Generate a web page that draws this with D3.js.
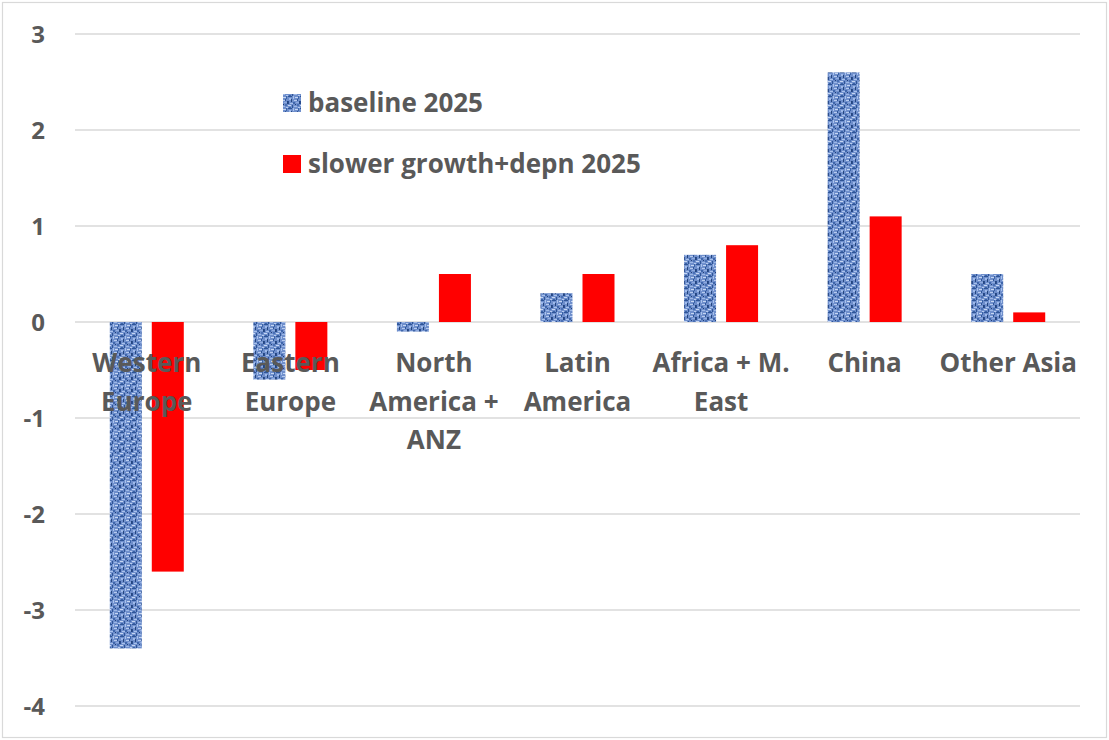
<!DOCTYPE html>
<html lang="en">
<head>
<meta charset="UTF-8">
<title>Regional change 2025</title>
<style>
  body, html { margin: 0; padding: 0; background: #ffffff; }
  svg text { font-family: "Open Sans", "DejaVu Sans", sans-serif; font-weight: bold; fill: #595959; }
</style>
</head>
<body>
<div id="chart"></div>
<script src="https://d3js.org/d3.v7.min.js"></script>
<script>
// Data
const regions = ["Western Europe", "Eastern Europe", "North America + ANZ", "Latin America", "Africa + M. East", "China", "Other Asia"];
const regionLines = [["Western", "Europe"], ["Eastern", "Europe"], ["North", "America +", "ANZ"], ["Latin", "America"], ["Africa + M.", "East"], ["China"], ["Other Asia"]];
const baseline2025 = [-3.4, -0.6, -0.1, 0.3, 0.7, 2.6, 0.5];
const slowerGrowth2025 = [-2.6, -0.5, 0.5, 0.5, 0.8, 1.1, 0.1];
const seriesNames = ["baseline 2025", "slower growth+depn 2025"];
const yTicks = [3, 2, 1, 0, -1, -2, -3, -4];

const W = 1109, H = 740;
const svg = d3.select("#chart").append("svg").attr("width", W).attr("height", H);

// woven blue texture for the baseline series
const defs = svg.append("defs");
const pat = defs.append("pattern").attr("id", "weave")
  .attr("patternUnits", "userSpaceOnUse").attr("width", 12).attr("height", 12);
pat.append("rect").attr("width", 12).attr("height", 12).attr("fill", "#6f8fcc");
const specks = [
  [0,0,4,1,"#2f5597"],[5,0,1,3,"#a9c2ec"],[7,1,3,1,"#c5d6f2"],[10,0,1,3,"#3b64a8"],
  [1,2,2,2,"#9fbaea"],[3,3,1,3,"#24467f"],[6,4,3,1,"#b7cbef"],[9,3,1,2,"#2f5597"],
  [0,5,1,3,"#2a4d8f"],[2,7,3,1,"#a9c2ec"],[5,6,2,2,"#3f66ab"],[8,6,3,1,"#8fabe0"],
  [11,5,1,3,"#24467f"],[0,9,3,1,"#c5d6f2"],[4,9,1,3,"#2f5597"],[6,10,3,1,"#9db8e6"],
  [9,8,2,2,"#4a70b4"],[1,11,2,1,"#3b64a8"],[10,11,2,1,"#b7cbef"],[7,8,1,1,"#1f3f78"]
];
specks.forEach(s => pat.append("rect").attr("x", s[0]).attr("y", s[1]).attr("width", s[2]).attr("height", s[3]).attr("fill", s[4]));

// outer border
svg.append("rect").attr("x", 2.5).attr("y", 2.5).attr("width", W - 5).attr("height", H - 5)
  .attr("fill", "none").attr("stroke", "#d9d9d9").attr("stroke-width", 1.2);

const plotL = 75, plotR = 1080;
const y = d3.scaleLinear().domain([-4, 3]).range([706, 34]);
const x = d3.scaleBand().domain(regions).range([plotL, plotR]);

// gridlines
svg.append("g").selectAll("line").data(yTicks).join("line")
  .attr("x1", plotL).attr("x2", plotR)
  .attr("y1", d => y(d)).attr("y2", d => y(d))
  .attr("stroke", "#d9d9d9").attr("stroke-width", 1.5);

// y tick labels
svg.append("g").selectAll("text").data(yTicks).join("text")
  .attr("x", 45).attr("y", d => y(d)).attr("dy", "0.36em")
  .attr("text-anchor", "end")
  .style("font-size", "24px")
  .text(d => d);

const barW = 32, gap = 10;
const center = r => x(r) + x.bandwidth() / 2;

// bars
svg.append("g").selectAll("rect").data(regions).join("rect")
  .attr("x", r => center(r) - gap / 2 - barW)
  .attr("width", barW)
  .attr("y", (r, i) => y(Math.max(0, baseline2025[i])))
  .attr("height", (r, i) => Math.abs(y(baseline2025[i]) - y(0)))
  .attr("fill", "url(#weave)");

svg.append("g").selectAll("rect").data(regions).join("rect")
  .attr("x", r => center(r) + gap / 2)
  .attr("width", barW)
  .attr("y", (r, i) => y(Math.max(0, slowerGrowth2025[i])))
  .attr("height", (r, i) => Math.abs(y(slowerGrowth2025[i]) - y(0)))
  .attr("fill", "#ff0000");

// category labels (sit over the bars, as in the original)
const cat = svg.append("g").selectAll("text").data(regions).join("text")
  .attr("text-anchor", "middle")
  .style("font-size", "26px");
cat.each(function(r, i) {
  d3.select(this).selectAll("tspan").data(regionLines[i]).join("tspan")
    .attr("x", center(r))
    .attr("y", (d, j) => 372 + j * 38.5)
    .text(d => d);
});

// legend
const legend = svg.append("g");
const legendY = [103, 164];
const legendFill = ["url(#weave)", "#ff0000"];
seriesNames.forEach((name, i) => {
  legend.append("rect").attr("x", 283).attr("y", legendY[i] - 9).attr("width", 18).attr("height", 18)
    .attr("fill", legendFill[i]);
  legend.append("text").attr("x", 308).attr("y", legendY[i]).attr("dy", "0.36em")
    .style("font-size", "26px").text(name);
});
</script>
</body>
</html>
